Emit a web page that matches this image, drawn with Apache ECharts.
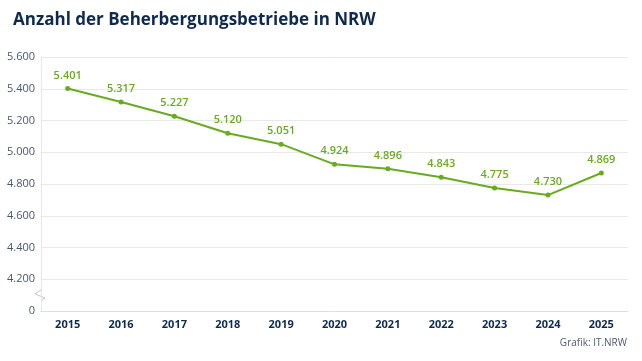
<!DOCTYPE html>
<html>
<head>
<meta charset="utf-8">
<script src="https://cdn.jsdelivr.net/npm/echarts@6/dist/echarts.min.js"></script>
<style>
  html, body { margin: 0; padding: 0; background: #fff; }
  #chart { width: 642px; height: 361px; }
</style>
</head>
<body>
<div id="chart"></div>
<script>
const years = ["2015", "2016", "2017", "2018", "2019", "2020", "2021", "2022", "2023", "2024", "2025"];
const betriebe = [5401, 5317, 5227, 5120, 5051, 4924, 4896, 4843, 4775, 4730, 4869];

const green = "#67ab1f";
const navy = "#0f2a4d";

const fmt = (v) => v.toLocaleString("de-DE");

const chart = echarts.init(document.getElementById("chart"));
chart.setOption({
  animation: false,
  textStyle: { fontFamily: "Open Sans" },
  title: [
    {
      text: "Anzahl der Beherbergungsbetriebe in NRW",
      left: 8,
      top: 7,
      textStyle: { fontSize: 17, fontWeight: "bold", color: navy, fontFamily: "Open Sans" }
    },
    {
      text: "Grafik: IT.NRW",
      right: 10,
      bottom: 8,
      textStyle: { fontSize: 10, fontWeight: "normal", color: "#4d5a6c", fontFamily: "Open Sans" }
    }
  ],
  grid: { left: 41, right: 14, top: 57, bottom: 50, containLabel: false },
  xAxis: {
    type: "category",
    data: years,
    axisLine: { lineStyle: { color: "#dedede" } },
    axisTick: { alignWithLabel: true, length: 4, lineStyle: { color: "#dedede" } },
    axisLabel: { color: navy, fontWeight: "bold", fontSize: 11, margin: 8 }
  },
  yAxis: {
    type: "value",
    min: 4000,
    max: 5600,
    interval: 200,
    axisLine: { show: true, lineStyle: { color: "#e6e6e6" } },
    axisTick: { show: false },
    splitLine: { lineStyle: { color: "#e8e8e8" } },
    axisLabel: {
      color: "#4a5670",
      fontSize: 11,
      margin: 6,
      formatter: (v) => (v === 4000 ? "0" : fmt(v))
    }
  },
  graphic: [
    {
      type: "polyline",
      shape: { points: [[41, 290], [35, 294], [45, 298], [41, 301]] },
      style: { stroke: "#c4c4c4", lineWidth: 1, fill: null }
    }
  ],
  series: [
    {
      type: "line",
      data: betriebe,
      symbol: "circle",
      symbolSize: 5,
      lineStyle: { color: green, width: 2 },
      itemStyle: { color: green },
      label: {
        show: true,
        position: "top",
        distance: 5,
        color: green,
        fontWeight: 600,
        fontSize: 11,
        formatter: (p) => fmt(p.value)
      }
    }
  ]
});
</script>
</body>
</html>
